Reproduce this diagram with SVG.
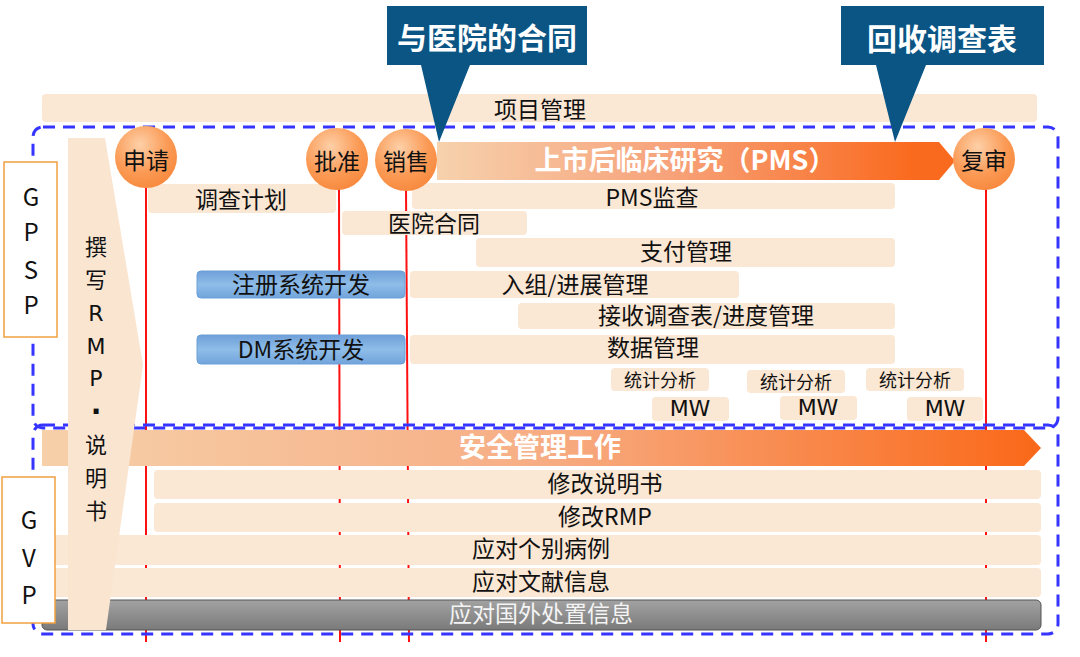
<svg xmlns="http://www.w3.org/2000/svg" width="1080" height="657" viewBox="0 0 1080 657">
<defs>
<radialGradient id="ball" cx="0.4" cy="0.3" r="0.75">
<stop offset="0" stop-color="#fdd0a8"/>
<stop offset="0.6" stop-color="#fb9a55"/>
<stop offset="1" stop-color="#f7883c"/>
</radialGradient>
<linearGradient id="pms" x1="437" y1="0" x2="955" y2="0" gradientUnits="userSpaceOnUse">
<stop offset="0" stop-color="#f6d2ad"/>
<stop offset="0.45" stop-color="#f7a27a"/>
<stop offset="0.92" stop-color="#fa6a1e"/>
</linearGradient>
<linearGradient id="safe" x1="42" y1="0" x2="1041" y2="0" gradientUnits="userSpaceOnUse">
<stop offset="0" stop-color="#f6d0a9"/>
<stop offset="0.5" stop-color="#f7ad84"/>
<stop offset="1" stop-color="#fa6818"/>
</linearGradient>
<linearGradient id="blue" x1="0" y1="0" x2="0" y2="1">
<stop offset="0" stop-color="#6e9fd8"/>
<stop offset="0.5" stop-color="#8ebde8"/>
<stop offset="1" stop-color="#72a4dc"/>
</linearGradient>
<linearGradient id="gray" x1="0" y1="0" x2="0" y2="1">
<stop offset="0" stop-color="#a2a2a2"/>
<stop offset="1" stop-color="#7a7a7a"/>
</linearGradient>
</defs>
<style>
.t{font-family:"Noto Sans CJK SC","Liberation Sans",sans-serif;fill:#111;text-anchor:middle;dominant-baseline:central}
.lat{font-family:"DejaVu Sans","Liberation Sans",sans-serif}
.bar{fill:#fae7d4}
.red{stroke:#ff1010;stroke-width:2;fill:none}
.dash{fill:none;stroke:#3535ff;stroke-width:3;stroke-dasharray:12 8}
.ball{fill:url(#ball)}
.call{fill:#0b5585}
.wb{fill:#fff;font-weight:bold}
.lbl{font-size:23px}
.st{font-size:18px}
.mw{font-size:22px}
</style>
<rect width="1080" height="657" fill="#fff"/>

<g id="project-mgmt">
<rect class="bar" x="42" y="94" width="995" height="28" rx="4"/>
<text class="t lbl" x="540" y="108">项目管理</text>
</g>

<g id="connectors">
<line class="red" x1="146" y1="185" x2="146" y2="642"/>
<line class="red" x1="339" y1="187" x2="340" y2="642"/>
<line class="red" x1="406" y1="188" x2="409" y2="642"/>
<line class="red" x1="986" y1="187" x2="986" y2="642"/>
</g>

<g id="frame-gpsp"><rect class="dash" x="33" y="127" width="1025" height="301" rx="10"/></g>
<g id="frame-gvp"><rect class="dash" x="33" y="425" width="1025" height="209" rx="10"/></g>

<g id="pms-arrow">
<path d="M437 142H939L955 161L939 180H437Z" fill="url(#pms)"/>
<text class="t wb" x="685" y="158" font-size="27">上市后临床研究（PMS）</text>
</g>

<g id="survey-plan"><rect class="bar" x="148" y="184" width="188" height="29" rx="4"/><text class="t lbl" x="241" y="198">调查计划</text></g>
<g id="pms-audit"><rect class="bar" x="412" y="183" width="483" height="26" rx="4"/><text class="t lbl" x="652" y="196">PMS监查</text></g>
<g id="hospital-contract"><rect class="bar" x="342" y="211" width="185" height="24" rx="4"/><text class="t lbl" x="434" y="222">医院合同</text></g>
<g id="payment"><rect class="bar" x="476" y="238" width="419" height="29" rx="4"/><text class="t lbl" x="686" y="250">支付管理</text></g>
<g id="reg-dev"><rect x="197" y="271" width="208" height="27" rx="4" fill="url(#blue)" stroke="#6b9fd8"/><text class="t lbl" x="301" y="283">注册系统开发</text></g>
<g id="enroll"><rect class="bar" x="410" y="271" width="329" height="27" rx="4"/><text class="t lbl" x="575" y="283">入组/进展管理</text></g>
<g id="receive"><rect class="bar" x="518" y="303" width="377" height="26" rx="4"/><text class="t lbl" x="706" y="314">接收调查表/进度管理</text></g>
<g id="dm-dev"><rect x="197" y="335" width="208" height="29" rx="4" fill="url(#blue)" stroke="#6b9fd8"/><text class="t lbl" x="301" y="348">DM系统开发</text></g>
<g id="data-mgmt"><rect class="bar" x="410" y="335" width="485" height="29" rx="4"/><text class="t lbl" x="653" y="346">数据管理</text></g>
<g id="stat1"><rect class="bar" x="611" y="368" width="98" height="23" rx="4"/><text class="t st" x="660" y="379">统计分析</text></g>
<g id="stat2"><rect class="bar" x="747" y="370" width="98" height="23" rx="4"/><text class="t st" x="796" y="381">统计分析</text></g>
<g id="stat3"><rect class="bar" x="866" y="368" width="98" height="23" rx="4"/><text class="t st" x="915" y="379">统计分析</text></g>
<g id="mw1"><rect class="bar" x="652" y="397" width="77" height="24" rx="4"/><text class="t lat mw" x="690" y="408">MW</text></g>
<g id="mw2"><rect class="bar" x="780" y="396" width="77" height="24" rx="4"/><text class="t lat mw" x="818" y="407">MW</text></g>
<g id="mw3"><rect class="bar" x="907" y="397" width="76" height="24" rx="4"/><text class="t lat mw" x="945" y="408">MW</text></g>

<g id="safety-arrow">
<path d="M42 430H1024L1041 448L1024 466H42Z" fill="url(#safe)"/>
<text class="t wb" x="540" y="445" font-size="27">安全管理工作</text>
</g>
<g id="revise-label"><rect class="bar" x="154" y="470" width="887" height="29" rx="4"/><text class="t lbl" x="605" y="482">修改说明书</text></g>
<g id="revise-rmp"><rect class="bar" x="154" y="503" width="887" height="29" rx="4"/><text class="t lbl" x="605" y="515">修改RMP</text></g>
<g id="case"><rect class="bar" x="42" y="535" width="999" height="30" rx="4"/><text class="t lbl" x="541" y="547">应对个别病例</text></g>
<g id="literature"><rect class="bar" x="42" y="568" width="999" height="29" rx="4"/><text class="t lbl" x="541" y="580">应对文献信息</text></g>
<g id="foreign"><rect x="42" y="600" width="999" height="30" rx="5" fill="url(#gray)" stroke="#555" stroke-width="1"/><text class="t lbl" x="541" y="612" style="fill:#f4f4f4">应对国外处置信息</text></g>

<g id="rmp">
<path d="M68 138H105L143 365L106 630H68Z" fill="#fae5d1"/>
<g class="t" font-size="22">
<text x="96" y="245">撰</text><text x="96" y="278">写</text><text class="lat" x="96" y="313">R</text><text class="lat" x="96" y="346">M</text><text class="lat" x="96" y="378">P</text><text class="lat" x="96" y="411" font-size="28" font-weight="bold">·</text><text x="96" y="443">说</text><text x="96" y="476">明</text><text x="96" y="509">书</text>
</g>
</g>

<g id="gpsp">
<rect x="4" y="162" width="53" height="175" fill="#fff" stroke="#f0a040" stroke-width="1.5"/>
<g class="t" font-size="24"><text x="31" y="195">G</text><text x="31" y="230">P</text><text x="31" y="268">S</text><text x="31" y="303">P</text></g>
</g>
<g id="gvp">
<rect x="2" y="477" width="53" height="146" fill="#fff" stroke="#f0a040" stroke-width="1.5"/>
<g class="t" font-size="24"><text x="29" y="518">G</text><text x="29" y="556">V</text><text x="29" y="593">P</text></g>
</g>

<g id="apply"><circle class="ball" cx="146" cy="157" r="31"/><text class="t lbl" x="146" y="159">申请</text></g>
<g id="approve"><circle class="ball" cx="337" cy="159" r="31"/><text class="t lbl" x="337" y="160">批准</text></g>
<g id="sale"><circle class="ball" cx="406" cy="160" r="31"/><text class="t lbl" x="406" y="160">销售</text></g>
<g id="review"><circle class="ball" cx="984" cy="159" r="31"/><text class="t lbl" x="984" y="159">复审</text></g>

<g id="callout-contract">
<path class="call" d="M387 6H587V65H470L439 142L421 65H387Z"/>
<text class="t wb" x="487" y="36" font-size="30">与医院的合同</text>
</g>
<g id="callout-survey">
<path class="call" d="M841 6H1044V65H926L895 142L876 65H841Z"/>
<text class="t wb" x="942" y="37" font-size="30">回收调查表</text>
</g>
</svg>
